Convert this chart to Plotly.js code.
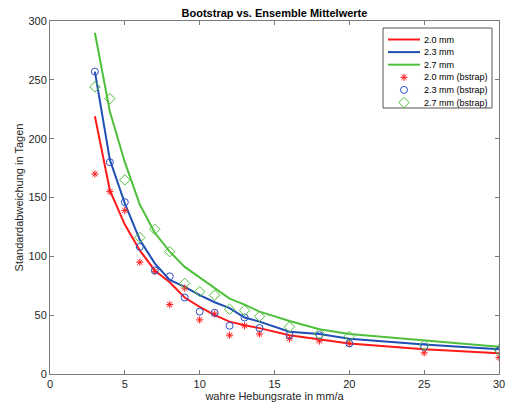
<!DOCTYPE html>
<html>
<head>
<meta charset="utf-8">
<script src="https://cdn.plot.ly/plotly-3.0.1.min.js"></script>
<style>html,body{margin:0;padding:0;background:#fff;}#chart{width:507px;height:407px;}</style>
</head>
<body>
<div id="chart"></div>
<script>
// x values (wahre Hebungsrate in mm/a)
const rates = [3,4,5,6,7,8,9,10,11,12,13,14,16,18,20,25,30];
// Ensemble mean lines
const line20 = [219,156,127,105,88,78,65,57,50,44.5,41.5,39,33,29.5,26,21,17.6];
const line23 = [257,182,145,114,94,80,74,67,61,56,48,44.5,36,34,30,25,21];
const line27 = [290,223,180,144,120,104,91,82,73,64,59,53,45,38,34,28.3,23.2];
// Bootstrap values
const bs20 = [170,155,139,95,87,59,73,46,51,33,41,34,30,28,26,18,14];
const bs23 = [257,180,146,108,88,83,65,53,52,41,48,39,33,33,26,23,20];
const bs27 = [244,234,165,116,123,104,77,70,67,55,54,49,40,34,32,24.5,20.5];
const names = ['2.0 mm','2.3 mm','2.7 mm','2.0 mm (bstrap)','2.3 mm (bstrap)','2.7 mm (bstrap)'];

const cRed = '#ff1a1a', cBlue = '#1f4fb4', cGreen = '#4fc03c', cBlueM = '#3050c8';
const lineColors = [cRed, cBlue, cGreen];
const markerSpecs = [
  {symbol: 'asterisk-open', size: 6, color: cRed},
  {symbol: 'circle-open', size: 7, color: cBlueM},
  {symbol: 'diamond-open', size: 8, color: cGreen}
];

const lineData = [line20, line23, line27];
const bsData = [bs20, bs23, bs27];
const traces = [];
lineData.forEach((ys, i) => traces.push({x: rates, y: ys, name: names[i], mode: 'lines',
  line: {color: lineColors[i], width: 2}, showlegend: false}));
bsData.forEach((ys, i) => traces.push({x: rates, y: ys, name: names[3+i], mode: 'markers', showlegend: false,
  marker: {symbol: markerSpecs[i].symbol, size: markerSpecs[i].size, color: markerSpecs[i].color,
           line: {color: markerSpecs[i].color, width: 1}}}));

// ---- custom compact legend (pixel frame via overlay axes) ----
const L = {left: 383, right: 492, top: 28, bottom: 108, row0: 39.5, rowH: 12.6, lx0: 388, lx1: 420, mx: 404, tx: 422};
const rowY = names.map((_, i) => L.row0 + i * L.rowH);
const shapes = [{type: 'rect', xref: 'x2', yref: 'y2', x0: L.left, x1: L.right, y0: L.top, y1: L.bottom,
  line: {color: '#555', width: 1}, fillcolor: '#fff', layer: 'below'}];
for (let i = 0; i < 3; i++) shapes.push({type: 'line', xref: 'x2', yref: 'y2', x0: L.lx0, x1: L.lx1, y0: rowY[i], y1: rowY[i],
  line: {color: lineColors[i], width: 2}});
for (let i = 0; i < 3; i++) traces.push({x: [L.mx], y: [rowY[3+i]], xaxis: 'x2', yaxis: 'y2', mode: 'markers', showlegend: false,
  cliponaxis: false, hoverinfo: 'skip',
  marker: {symbol: markerSpecs[i].symbol, size: markerSpecs[i].size, color: markerSpecs[i].color,
           line: {color: markerSpecs[i].color, width: 1}}});
const annotations = names.map((n, i) => ({xref: 'x2', yref: 'y2', x: L.tx, y: rowY[i], text: n, showarrow: false,
  xanchor: 'left', yanchor: 'middle', font: {size: 9, color: '#000'}}));

const axisCommon = {
  showgrid: false, zeroline: false, showline: true, linecolor: '#7a7a7a', linewidth: 1,
  mirror: 'ticks', ticks: 'inside', ticklen: 4, tickcolor: '#7a7a7a', tickwidth: 1,
  tickfont: {family: 'Liberation Sans, Arial, sans-serif', size: 11, color: '#262626'}
};

const layout = {
  width: 507, height: 407,
  margin: {l: 50, r: 8, t: 21, b: 33, pad: 0},
  paper_bgcolor: '#fff', plot_bgcolor: '#fff',
  font: {family: 'Liberation Sans, Arial, sans-serif', color: '#262626'},
  title: {text: '<b>Bootstrap vs. Ensemble Mittelwerte</b>', font: {size: 11, color: '#000'},
          x: 0.5, xref: 'paper', y: 1 - 13/407, yref: 'container', yanchor: 'middle'},
  xaxis: Object.assign({}, axisCommon, {range: [0, 30], tickvals: [0,5,10,15,20,25,30], automargin: false,
          title: {text: 'wahre Hebungsrate in mm/a', font: {size: 11, color: '#262626'}, standoff: 2}}),
  yaxis: Object.assign({}, axisCommon, {range: [0, 300], tickvals: [0,50,100,150,200,250,300], automargin: false,
          title: {text: 'Standardabweichung in Tagen', font: {size: 11, color: '#262626'}, standoff: 2}}),
  xaxis2: {overlaying: 'x', range: [50, 499], visible: false, fixedrange: true},
  yaxis2: {overlaying: 'y', range: [374, 21], visible: false, fixedrange: true},
  shapes: shapes,
  annotations: annotations,
  showlegend: false
};

Plotly.newPlot('chart', traces, layout, {displayModeBar: false, staticPlot: true});
</script>
</body>
</html>
